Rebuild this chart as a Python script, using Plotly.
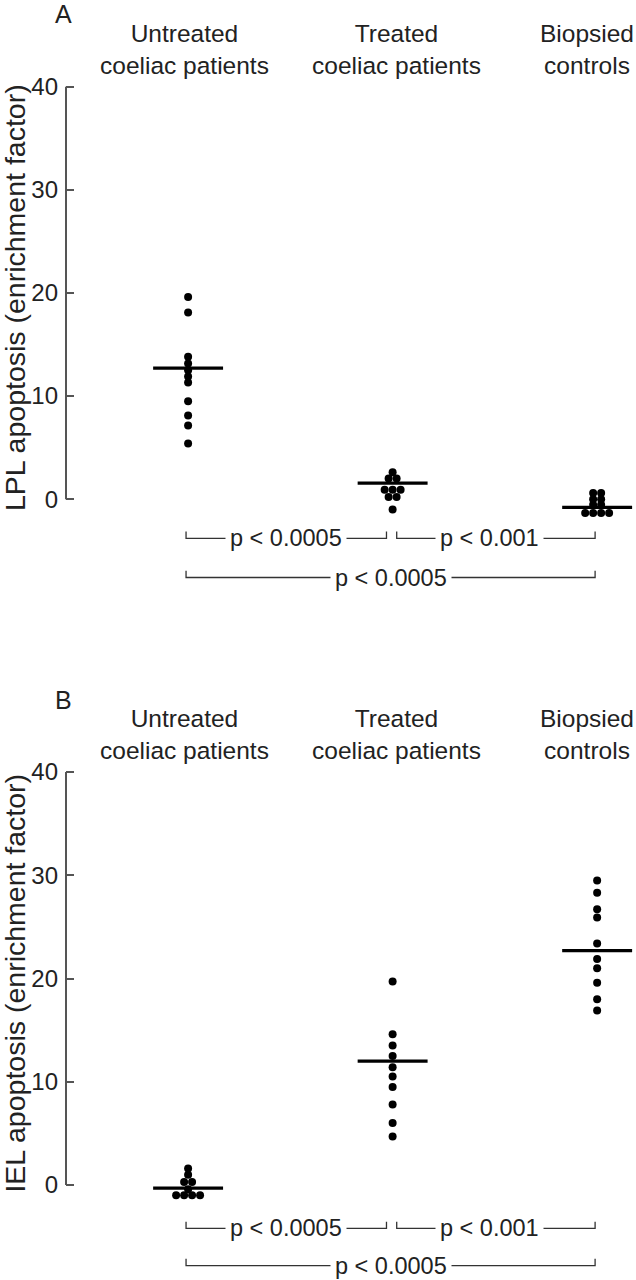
import plotly.graph_objects as go

# ---------------- data ----------------
groups = ["Untreated<br>coeliac patients", "Treated<br>coeliac patients", "Biopsied<br>controls"]
panel_letters = ["A", "B"]
y_titles = ["LPL apoptosis (enrichment factor)", "IEL apoptosis (enrichment factor)"]
tick_vals = [0, 10, 20, 30, 40]

# Panel A (LPL) values
lpl_untreated = [19.6, 18.1, 13.8, 13.15, 12.5, 11.9, 11.3, 9.5, 8.1, 7.15, 5.4]
lpl_treated = [2.6, 2.0, 2.0, 0.9, 0.9, 0.9, 0.2, 0.2, -1.0]
lpl_controls = [0.6, 0.6, 0.0, 0.0, -0.55, -0.55, -1.35, -1.35, -1.35, -1.35]
lpl_means = [12.7, 1.55, -0.8]

# Panel B (IEL) values
iel_untreated = [1.6, 1.0, 0.3, 0.3, -0.4, -1.0, -1.0, -1.0, -1.0]
iel_treated = [19.7, 14.6, 13.5, 12.5, 11.4, 10.5, 9.5, 7.8, 6.0, 4.7]
iel_controls = [29.5, 28.3, 26.7, 25.9, 23.4, 21.9, 21.0, 19.6, 18.0, 16.9]
iel_means = [-0.3, 12.0, 22.7]

# side-by-side column index of each dot (dot widths), for tied values
lpl_untreated_col = [0] * 11
lpl_treated_col = [0, -0.5, 0.5, -1, 0, 1, -0.5, 0.5, 0]
lpl_controls_col = [-0.5, 0.5, -0.5, 0.5, -0.5, 0.5, -1.5, -0.5, 0.5, 1.5]
iel_untreated_col = [0, 0, -0.5, 0.5, 0, -1.5, -0.5, 0.5, 1.5]
iel_treated_col = [0] * 10
iel_controls_col = [0] * 10

# significance brackets: (from group, to group, label, row)
brackets = [(0, 1, "p < 0.0005", 1), (1, 2, "p < 0.001", 1), (0, 2, "p < 0.0005", 2)]

# ---------------- layout constants ----------------
W, H = 636, 1280
ML = 66
XR = [-0.597, 2.19]
PXU = 10.325           # pixels per y unit
YR = [[-10, 48.4], [-9.2, 48.4]]
ZERO_PX = [499, 1185]
DOT_W = 0.039          # one dot width in x units
HALF_MEAN = 0.171
HEADER_DX = [-0.02, 0.02]

fig = go.Figure()
panels = [
    ([lpl_untreated, lpl_treated, lpl_controls], [lpl_untreated_col, lpl_treated_col, lpl_controls_col], lpl_means),
    ([iel_untreated, iel_treated, iel_controls], [iel_untreated_col, iel_treated_col, iel_controls_col], iel_means),
]

font = "Liberation Sans, Arial, sans-serif"
annotations = []
shapes = []

for p, (vals, cols, means) in enumerate(panels):
    xa = "x" if p == 0 else "x2"
    ya = "y" if p == 0 else "y2"
    xs, ys = [], []
    for gi, (v, c) in enumerate(zip(vals, cols)):
        xs += [gi + ci * DOT_W for ci in c]
        ys += v
    fig.add_trace(go.Scatter(x=xs, y=ys, mode="markers", xaxis=xa, yaxis=ya,
                             marker=dict(size=8, color="black"), showlegend=False,
                             hoverinfo="skip"))
    mx, my = [], []
    for gi, m in enumerate(means):
        mx += [gi - HALF_MEAN, gi + HALF_MEAN, None]
        my += [m, m, None]
    fig.add_trace(go.Scatter(x=mx, y=my, mode="lines", xaxis=xa, yaxis=ya,
                             line=dict(color="black", width=3.2), showlegend=False,
                             hoverinfo="skip"))

    # axis line from 0 to 40
    shapes.append(dict(type="line", xref=f"{xa} domain", yref=ya, x0=0, x1=0,
                       y0=tick_vals[0], y1=tick_vals[-1], line=dict(color="#555", width=2)))

    # headers
    for gi, g in enumerate(groups):
        if gi == 2:
            annotations.append(dict(x=1.0, y=43.6, xref="paper", yref=ya, text=g,
                                    showarrow=False, font=dict(size=24.5, color="#222", family=font),
                                    xanchor="right", yanchor="middle", align="center"))
        else:
            annotations.append(dict(x=gi + HEADER_DX[gi], y=43.6, xref=xa, yref=ya, text=g,
                                    showarrow=False, font=dict(size=24.5, color="#222", family=font),
                                    xanchor="center", yanchor="middle", align="center"))
    # panel letter
    annotations.append(dict(x=-0.005, y=47.0, xref="paper", yref=ya, text=panel_letters[p],
                            showarrow=False, font=dict(size=25, color="#222", family=font),
                            xanchor="center", yanchor="middle"))
    # y title
    annotations.append(dict(x=-0.0895, y=19.6, xref="paper", yref=ya, text=y_titles[p],
                            textangle=-90, showarrow=False,
                            font=dict(size=28.5, color="#222", family=font),
                            xanchor="center", yanchor="middle"))
    # brackets
    for (g0, g1, lab, row) in brackets:
        x0 = g0 - 0.01 + (0.03 if (g0 == 1 and row == 1) else 0)
        x1 = g1 - 0.01 - (0.02 if (g1 == 1 and row == 1) else 0)
        yb = -3.8 if row == 1 else -7.6
        if p == 1:
            yb = -4.2 if row == 1 else -7.8
        tk = 0.65
        shapes.append(dict(type="path", xref=xa, yref=ya,
                           path=f"M {x0},{yb + tk} L {x0},{yb} L {x1},{yb} L {x1},{yb + tk}",
                           line=dict(color="#333", width=1.3)))
        xc = (x0 + x1) / 2 - (0.03 if g0 == 1 and row == 1 else 0)
        annotations.append(dict(x=xc, y=yb, xref=xa, yref=ya, text=lab, showarrow=False,
                                bgcolor="white", borderpad=4,
                                font=dict(size=23.5, color="#222", family=font),
                                xanchor="center", yanchor="middle"))

def dom(p):
    top_px = ZERO_PX[p] - YR[p][1] * PXU
    bot_px = ZERO_PX[p] - YR[p][0] * PXU
    return [max(0, 1 - bot_px / H), min(1, 1 - top_px / H)]

axis_common = dict(showgrid=False, zeroline=False, showline=False, automargin=False)
yax = dict(tickvals=tick_vals, ticks="inside", ticklen=8, tickwidth=1.5, tickcolor="#555",
           tickfont=dict(size=24, color="#222", family=font), ticklabelstandoff=7, **axis_common)
fig.update_layout(
    width=W, height=H,
    margin=dict(l=ML, r=0, t=0, b=0, autoexpand=False),
    paper_bgcolor="white", plot_bgcolor="white",
    font=dict(family=font, color="#222"),
    xaxis=dict(domain=[0, 1], range=XR, visible=False, **axis_common),
    xaxis2=dict(domain=[0, 1], range=XR, visible=False, **axis_common),
    yaxis=dict(domain=dom(0), range=YR[0], **yax),
    yaxis2=dict(domain=dom(1), range=YR[1], **yax),
    annotations=annotations,
    shapes=shapes,
)

fig.write_html("out.html", config={"displayModeBar": False},
               post_script="document.body.style.margin='0';document.body.style.padding='0';")
